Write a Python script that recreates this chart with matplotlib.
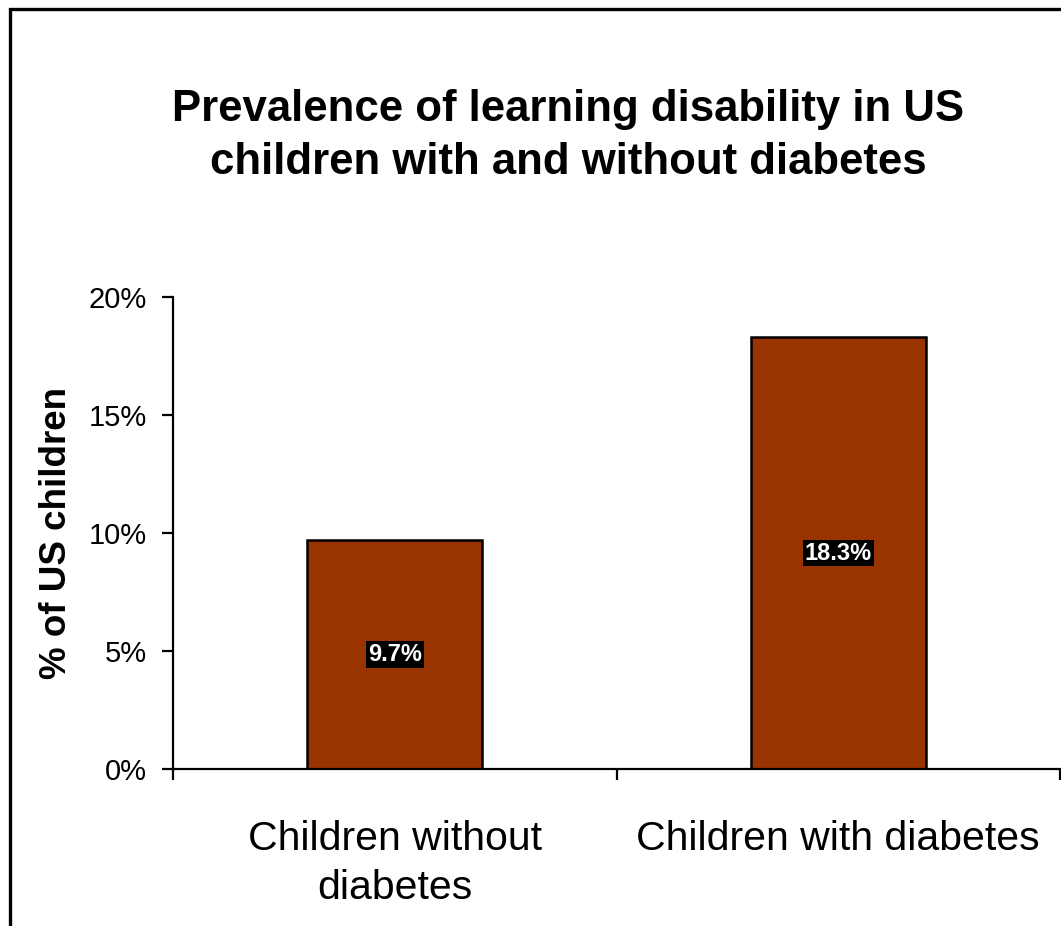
import matplotlib
matplotlib.use("Agg")
import matplotlib.pyplot as plt
from matplotlib.patches import Rectangle
from matplotlib.ticker import FixedLocator

categories = ["Children without\ndiabetes", "Children with diabetes"]
values = [9.7, 18.3]
value_labels = ["9.7%", "18.3%"]
yticks = [0, 5, 10, 15, 20]
ytick_labels = ["0%", "5%", "10%", "15%", "20%"]
title = "Prevalence of learning disability in US\nchildren with and without diabetes"
ylabel = "% of US children"

plt.rcParams['font.family'] = ['Liberation Sans', 'DejaVu Sans']

fig = plt.figure(figsize=(10.61, 9.26), dpi=100)
W, H = 1061, 926

# outer frame (extends beyond right/bottom edges)
fig.patches.append(Rectangle((10 / W, -0.1), 1.2, (926 - 9) / H + 0.1,
                             transform=fig.transFigure, fill=False,
                             edgecolor='black', linewidth=2.4, zorder=0))

ax = fig.add_axes([173 / W, (926 - 769) / H, 887 / W, 472 / H])
x = list(range(len(categories)))
ax.bar(x, values, width=0.395, color='#993300', edgecolor='black', linewidth=1.8, zorder=2)

ax.set_xlim(-0.5, 1.5)
ax.set_ylim(0, 20)
for s in ['top', 'right']:
    ax.spines[s].set_visible(False)
for s in ['left', 'bottom']:
    ax.spines[s].set_linewidth(1.6)

ax.set_yticks(yticks)
ax.set_yticklabels(ytick_labels, fontsize=21)
ax.tick_params(axis='y', direction='out', length=8, width=1.6, pad=11)
ax.xaxis.set_major_locator(FixedLocator([-0.5, 0.5, 1.5]))
ax.set_xticklabels([])
ax.tick_params(axis='x', direction='out', length=8, width=1.6)
ax.xaxis.set_minor_locator(FixedLocator(x))
ax.set_xticklabels(categories, minor=True, fontsize=29.5, linespacing=1.34)
ax.tick_params(axis='x', which='minor', length=0, pad=37)

ax.set_ylabel(ylabel, fontsize=26.5, fontweight='bold', labelpad=10)

for xi, v, lab in zip(x, values, value_labels):
    ax.text(xi, v / 2, lab, ha='center', va='center', color='white',
            fontsize=17, fontweight='bold', zorder=3,
            bbox=dict(boxstyle='square,pad=0.08', facecolor='black', edgecolor='none'))

fig.text(568 / W, 1 - 136 / H, title, ha='center', va='center',
         fontsize=31.5, fontweight='bold', linespacing=1.4)

fig.savefig("out.png", dpi=100)
